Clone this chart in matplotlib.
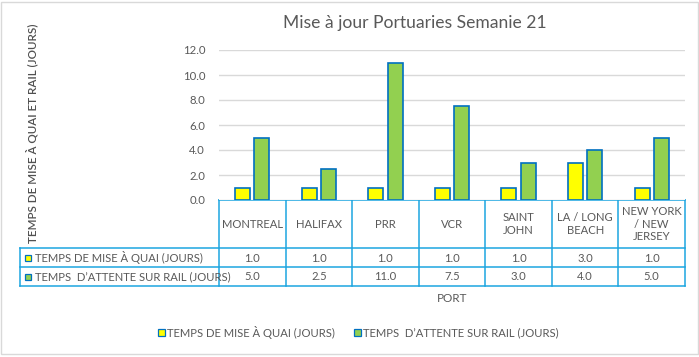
import numpy as np
import matplotlib.pyplot as plt
from matplotlib.patches import Rectangle

plt.rcParams['font.family'] = ['Lato', 'DejaVu Sans']

ports = ["MONTREAL", "HALIFAX", "PRR", "VCR", "SAINT\nJOHN", "LA / LONG\nBEACH", "NEW YORK\n/ NEW\nJERSEY"]
quai = [1.0, 1.0, 1.0, 1.0, 1.0, 3.0, 1.0]
rail = [5.0, 2.5, 11.0, 7.5, 3.0, 4.0, 5.0]
series_names = ["TEMPS DE MISE À QUAI (JOURS)", "TEMPS  D\u2019ATTENTE SUR RAIL (JOURS)"]
colors = ["#FFFF00", "#92D050"]
edge = "#0070C0"
grey = "#595959"
tbl = "#1CA5E0"

W, H = 699, 357
fig = plt.figure(figsize=(W / 100, H / 100), dpi=100)

# overlay axes in pixel coordinates for table / legend / border
ov = fig.add_axes([0, 0, 1, 1])
ov.set_xlim(0, W)
ov.set_ylim(H, 0)
ov.axis("off")

x0, x1 = 219, 685
ytop, ybot = 50, 200
ax = fig.add_axes([x0 / W, 1 - ybot / H, (x1 - x0) / W, (ybot - ytop) / H])
n = len(ports)
x = np.arange(n)
w = 0.225
ax.bar(x - 0.145, quai, w, color=colors[0], edgecolor=edge, linewidth=1.2, zorder=3)
ax.bar(x + 0.145, rail, w, color=colors[1], edgecolor=edge, linewidth=1.2, zorder=3)
ax.set_xlim(-0.5, n - 0.5)
ax.set_ylim(0, 12)
ax.set_yticks(np.arange(0, 13, 2))
ax.set_yticklabels([f"{v:.1f}" for v in np.arange(0, 13, 2)], color=grey, fontsize=8.2)
ax.tick_params(axis="y", length=0, pad=10)
ax.set_xticks([])
ax.grid(axis="y", color="#D9D9D9", linewidth=1, zorder=0)
for s in ax.spines.values():
    s.set_visible(False)

ax.set_title("Mise à jour Portuaries Semanie 21", fontsize=12.6, color=grey, x=0.42, pad=16)

# table
edges = np.linspace(x0, x1, n + 1)
lw = 1.1
ov.plot([x0, x1], [200, 200], color=tbl, lw=lw)
for yy in (248, 267, 286):
    ov.plot([20, x1], [yy, yy], color=tbl, lw=lw)
ov.plot([20, 20], [248, 286], color=tbl, lw=lw)
for xe in edges:
    ov.plot([xe, xe], [200, 286], color=tbl, lw=lw)

fs = 8.1
for i, p in enumerate(ports):
    cx = (edges[i] + edges[i + 1]) / 2
    ov.text(cx, 224, p, ha="center", va="center", fontsize=fs, color=grey, linespacing=1.2)
    ov.text(cx, 258, f"{quai[i]:.1f}", ha="center", va="center", fontsize=fs, color=grey)
    ov.text(cx, 277, f"{rail[i]:.1f}", ha="center", va="center", fontsize=fs, color=grey)

for j, (name, c) in enumerate(zip(series_names, colors)):
    yc = 258 + j * 19
    ov.add_patch(Rectangle((24.5, yc - 3.5), 6.5, 6.5, facecolor=c, edgecolor=edge, lw=0.9))
    ov.text(35, yc, name, ha="left", va="center", fontsize=fs, color=grey)

ov.text(452, 298, "PORT", ha="center", va="center", fontsize=8.4, color=grey)
ov.text(32, 133, "TEMPS DE MISE À QUAI ET RAIL (JOURS)", rotation=90, ha="center",
        va="center", fontsize=8.4, color="#505050", fontweight="semibold")

# legend
for lx, name, c in ((158, series_names[0], colors[0]), (354, series_names[1], colors[1])):
    ov.add_patch(Rectangle((lx, 329), 6.5, 6.5, facecolor=c, edgecolor=edge, lw=0.9))
    ov.text(lx + 9, 332.5, name, ha="left", va="center", fontsize=fs, color=grey)

ov.add_patch(Rectangle((0.5, 1.5), W - 1.5, H - 5, fill=False, edgecolor="#D9D9D9", lw=1))

fig.savefig("out.png", dpi=100)
